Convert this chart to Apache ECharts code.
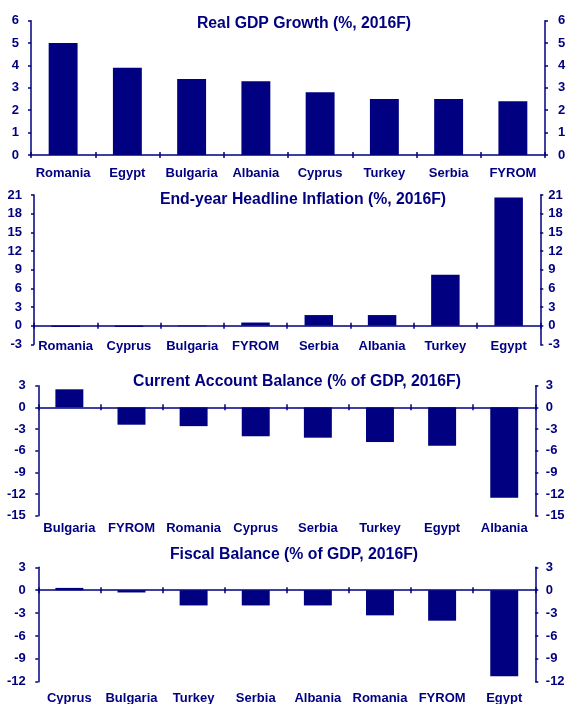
<!DOCTYPE html>
<html>
<head>
<meta charset="utf-8">
<script src="https://cdn.jsdelivr.net/npm/echarts@6/dist/echarts.min.js"></script>
<style>
html,body{margin:0;padding:0;background:#fff;}
#c{width:566px;height:704px;}
</style>
</head>
<body>
<div id="c"></div>
<script>
// ---- Data ----
const gdpTitle = 'Real GDP Growth (%, 2016F)';
const gdpCategories = ['Romania','Egypt','Bulgaria','Albania','Cyprus','Turkey','Serbia','FYROM'];
const gdpValues = [5.0, 3.9, 3.4, 3.3, 2.8, 2.5, 2.5, 2.4];
const gdpTicks = {min: 0, max: 6, interval: 1};

const inflTitle = 'End-year Headline Inflation (%, 2016F)';
const inflCategories = ['Romania','Cyprus','Bulgaria','FYROM','Serbia','Albania','Turkey','Egypt'];
const inflValues = [-0.2, -0.2, -0.1, 0.5, 1.7, 1.7, 8.2, 20.6];
const inflTicks = {min: -3, max: 21, interval: 3};

const caTitle = 'Current Account Balance (% of GDP, 2016F)';
const caCategories = ['Bulgaria','FYROM','Romania','Cyprus','Serbia','Turkey','Egypt','Albania'];
const caValues = [2.5, -2.4, -2.6, -4.0, -4.2, -4.8, -5.3, -12.5];
const caTicks = {min: -15, max: 3, interval: 3};

const fiscTitle = 'Fiscal Balance (% of GDP, 2016F)';
const fiscCategories = ['Cyprus','Bulgaria','Turkey','Serbia','Albania','Romania','FYROM','Egypt'];
const fiscValues = [0.3, -0.3, -2.0, -2.0, -2.0, -3.3, -4.0, -11.3];
const fiscTicks = {min: -12, max: 3, interval: 3};

// ---- Layout / style ----
const NAVY = '#000080';
const FONT = "'Liberation Sans', Arial, sans-serif";
const panels = [
  {title: gdpTitle, cats: gdpCategories, vals: gdpValues, ticks: gdpTicks,
   grid: {left: 31, right: 21, top: 20.7, height: 134.3}, titleX: 299, titleY: 19,
   labelMargin: 18, leftMargin: 12, rightMargin: 13},
  {title: inflTitle, cats: inflCategories, vals: inflValues, ticks: inflTicks,
   grid: {left: 34, right: 25.7, top: 195, height: 149.3}, titleX: 298, titleY: 195,
   labelMargin: 2, leftMargin: 12, rightMargin: 8},
  {title: caTitle, cats: caCategories, vals: caValues, ticks: caTicks,
   grid: {left: 38.3, right: 30.7, top: 385.7, height: 130}, titleX: 292, titleY: 377,
   labelMargin: 12.5, leftMargin: 12.5, rightMargin: 10.5},
  {title: fiscTitle, cats: fiscCategories, vals: fiscValues, ticks: fiscTicks,
   grid: {left: 38.3, right: 30.7, top: 567.3, height: 114.4}, titleX: 289, titleY: 550,
   labelMargin: 16.5, leftMargin: 12.5, rightMargin: 10.5}
];

const textStyle = {color: NAVY, fontFamily: FONT, fontWeight: 'bold', fontSize: 13};
const option = {animation: false, backgroundColor: '#fff', title: [], grid: [], xAxis: [], yAxis: [], series: []};

panels.forEach((p, i) => {
  option.title.push({
    text: p.title, left: p.titleX, top: p.titleY, textAlign: 'center', textVerticalAlign: 'middle',
    textStyle: {color: NAVY, fontFamily: FONT, fontWeight: 'bold', fontSize: 15.8}
  });
  option.grid.push(Object.assign({outerBoundsMode: 'none', containLabel: false}, p.grid));
  // axis A: zero line + inward ticks
  option.xAxis.push({
    type: 'category', gridIndex: i, data: p.cats, position: 'bottom',
    axisLine: {show: true, onZero: true, lineStyle: {color: NAVY, width: 1.5}},
    axisTick: {show: true, interval: 0, inside: true, length: 3, lineStyle: {color: NAVY, width: 1.5}},
    axisLabel: {show: false}, splitLine: {show: false}
  });
  // axis B: outward ticks on zero line
  option.xAxis.push({
    type: 'category', gridIndex: i, data: p.cats, position: 'bottom',
    axisLine: {show: false, onZero: true},
    axisTick: {show: true, interval: 0, inside: false, length: 3, lineStyle: {color: NAVY, width: 1.5}},
    axisLabel: {show: false}, splitLine: {show: false}
  });
  // axis C: labels at the bottom of the plot
  option.xAxis.push({
    type: 'category', gridIndex: i, data: p.cats, position: 'bottom',
    axisLine: {show: false, onZero: false}, axisTick: {show: false},
    axisLabel: Object.assign({show: true, interval: 0, margin: p.labelMargin, verticalAlign: 'middle'}, textStyle),
    splitLine: {show: false}
  });
  ['left', 'right'].forEach(pos => {
    option.yAxis.push({
      type: 'value', gridIndex: i, position: pos,
      min: p.ticks.min, max: p.ticks.max, interval: p.ticks.interval,
      axisLine: {show: true, lineStyle: {color: NAVY, width: 1.5}},
      axisTick: {show: true, inside: false, length: 3, lineStyle: {color: NAVY, width: 1.5}},
      axisLabel: Object.assign({show: true, margin: pos === 'left' ? p.leftMargin : p.rightMargin}, textStyle),
      splitLine: {show: false}
    });
  });
  option.series.push({
    type: 'bar', xAxisIndex: 3 * i, yAxisIndex: 2 * i, data: p.vals,
    barWidth: '45%', itemStyle: {color: NAVY}, silent: true
  });
});

const chart = echarts.init(document.getElementById('c'), null, {renderer: 'canvas'});
chart.setOption(option);
</script>
</body>
</html>
